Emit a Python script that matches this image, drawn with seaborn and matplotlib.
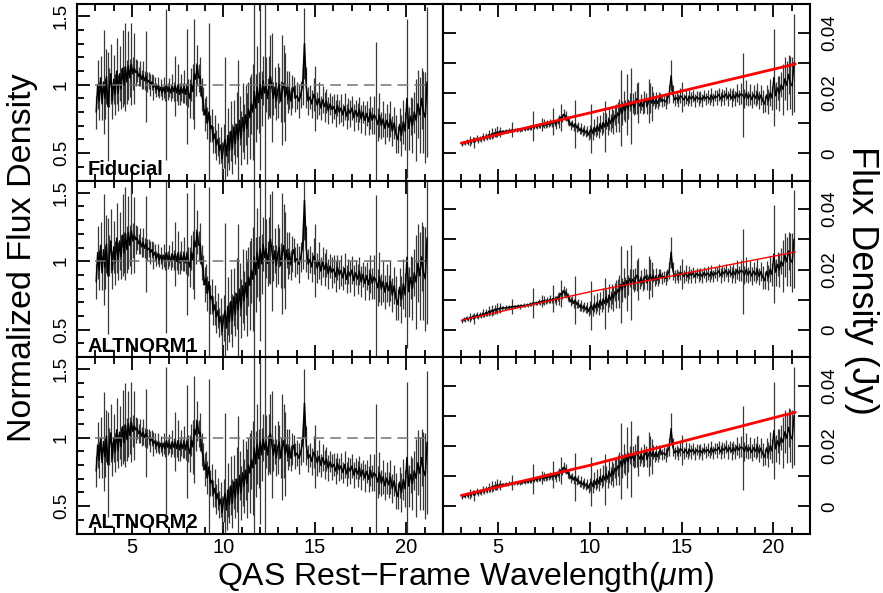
import numpy as np
import pandas as pd
import matplotlib
matplotlib.use("Agg")
import matplotlib.pyplot as plt
import seaborn as sns
from matplotlib.ticker import MultipleLocator, FixedLocator, FuncFormatter

# ---------------- data ----------------
# rest-frame wavelength (micron)
wave_a = [3.05, 3.13, 3.21, 3.29, 3.37, 3.45, 3.53, 3.61, 3.69, 3.77,
          3.85, 3.93, 4.01, 4.09, 4.17, 4.25, 4.33, 4.41, 4.49, 4.57,
          4.65, 4.73, 4.81, 4.89, 4.97, 5.05, 5.13, 5.21, 5.29, 5.37,
          5.45, 5.53, 5.61, 5.69, 5.77, 5.85, 5.93, 6.01, 6.09, 6.17,
          6.25, 6.33, 6.41, 6.49, 6.57, 6.65, 6.73, 6.81, 6.89, 6.97,
          7.05, 7.13, 7.21, 7.29, 7.37, 7.45, 7.53, 7.61, 7.69, 7.77,
          7.85, 7.93, 8.01, 8.09, 8.17, 8.25, 8.33, 8.41, 8.49, 8.57,
          8.65, 8.73, 8.81, 8.89, 8.97]
wave_b = [9.05, 9.13, 9.21, 9.29, 9.37, 9.45, 9.53, 9.61, 9.69, 9.77,
          9.85, 9.93, 10.01, 10.09, 10.17, 10.25, 10.33, 10.41, 10.49, 10.57,
          10.65, 10.73, 10.81, 10.89, 10.97, 11.05, 11.13, 11.21, 11.29, 11.37,
          11.45, 11.53, 11.61, 11.69, 11.77, 11.85, 11.93, 12.01, 12.09, 12.17,
          12.25, 12.33, 12.41, 12.49, 12.57, 12.65, 12.73, 12.81, 12.89, 12.97,
          13.05, 13.13, 13.21, 13.29, 13.37, 13.45, 13.53, 13.61, 13.69, 13.77,
          13.85, 13.93]
wave_c = [14.03, 14.13, 14.23, 14.33, 14.43, 14.53, 14.63, 14.73, 14.83, 14.93,
          15.03, 15.13, 15.23, 15.33, 15.43, 15.53, 15.63, 15.73, 15.83, 15.93,
          16.03, 16.13, 16.23, 16.33, 16.43, 16.53, 16.63, 16.73, 16.83, 16.93,
          17.03, 17.13, 17.23, 17.33, 17.43, 17.53, 17.63, 17.73, 17.83, 17.93,
          18.03, 18.13, 18.23, 18.33, 18.43, 18.53, 18.63, 18.73, 18.83, 18.93,
          19.03, 19.13, 19.23, 19.33, 19.43, 19.53, 19.63, 19.73, 19.83, 19.93,
          20.03, 20.13, 20.23, 20.33, 20.43, 20.53, 20.63, 20.73, 20.83, 20.93,
          21.03, 21.13]

# fiducial normalized flux density
norm_a = [0.80, 1.00, 0.88, 1.05, 0.86, 1.02, 0.90, 1.06, 0.84, 0.98,
          1.08, 0.88, 1.04, 0.93, 1.10, 0.94, 1.08, 0.97, 1.12, 1.00,
          1.13, 1.02, 1.14, 1.05, 1.15, 1.08, 1.12, 1.09, 1.10, 1.06,
          1.08, 1.04, 1.07, 1.03, 1.06, 1.02, 1.03, 1.00, 1.02, 0.98,
          1.00, 0.96, 0.99, 0.95, 0.98, 0.94, 0.98, 0.94, 1.00, 0.95,
          0.98, 0.94, 0.99, 0.95, 0.99, 0.94, 1.00, 0.93, 0.98, 0.94,
          0.99, 0.93, 0.99, 0.94, 0.90, 1.00, 0.95, 1.08, 1.04, 1.14,
          1.05, 1.06, 0.93, 0.88, 0.78]
norm_b = [0.82, 0.72, 0.80, 0.68, 0.70, 0.60, 0.64, 0.56, 0.60, 0.52,
          0.56, 0.46, 0.55, 0.60, 0.48, 0.63, 0.52, 0.66, 0.53, 0.69,
          0.57, 0.71, 0.60, 0.74, 0.61, 0.76, 0.66, 0.78, 0.68, 0.82,
          0.76, 0.86, 0.80, 0.95, 0.83, 0.98, 0.87, 1.00, 0.90, 1.03,
          0.94, 1.00, 0.90, 0.99, 1.06, 0.98, 0.90, 0.98, 0.88, 0.96,
          1.00, 0.88, 0.96, 1.01, 0.91, 0.98, 0.89, 0.96, 0.88, 0.95,
          0.98, 0.90]
norm_c = [0.92, 0.88, 0.93, 1.00, 1.30, 0.98, 0.88, 0.91, 0.86, 0.93,
          0.90, 0.85, 0.90, 0.83, 0.89, 0.84, 0.88, 0.81, 0.86, 0.82,
          0.84, 0.79, 0.85, 0.80, 0.83, 0.78, 0.84, 0.77, 0.82, 0.79,
          0.83, 0.76, 0.81, 0.77, 0.82, 0.75, 0.80, 0.74, 0.79, 0.73,
          0.80, 0.74, 0.78, 0.76, 0.71, 0.78, 0.70, 0.75, 0.68, 0.74,
          0.69, 0.75, 0.66, 0.72, 0.64, 0.60, 0.71, 0.63, 0.73, 0.66,
          0.90, 0.68, 0.77, 0.70, 0.80, 0.74, 0.86, 0.78, 0.90, 0.80,
          0.76, 1.02]

# 1-sigma uncertainty on the fiducial normalized flux
err_a = [0.12, 0.18, 0.14, 0.16, 0.12, 0.38, 0.15, 0.20, 0.40, 0.14,
         0.22, 0.13, 0.18, 0.15, 0.24, 0.13, 0.20, 0.15, 0.28, 0.14,
         0.32, 0.16, 0.25, 0.14, 0.30, 0.12, 0.26, 0.10, 0.08, 0.07,
         0.09, 0.07, 0.10, 0.07, 0.33, 0.07, 0.06, 0.08, 0.06, 0.09,
         0.06, 0.05, 0.07, 0.05, 0.06, 0.05, 0.08, 0.06, 0.55, 0.06,
         0.07, 0.06, 0.09, 0.07, 0.22, 0.06, 0.15, 0.08, 0.10, 0.07,
         0.12, 0.08, 0.42, 0.10, 0.14, 0.12, 0.20, 0.40, 0.12, 0.15,
         0.10, 0.14, 0.12, 0.10, 0.12]
err_b = [0.10, 0.12, 0.65, 0.10, 0.12, 0.10, 0.14, 0.11, 0.12, 0.10,
         0.13, 0.12, 0.16, 0.60, 0.15, 0.20, 0.14, 0.22, 0.18, 0.20,
         0.15, 0.24, 0.58, 0.18, 0.20, 0.25, 0.20, 0.22, 0.26, 0.20,
         0.30, 0.22, 0.35, 0.80, 0.25, 0.30, 0.22, 0.62, 0.20, 0.18,
         0.75, 0.20, 0.15, 0.22, 0.30, 0.40, 0.12, 0.15, 0.14, 0.20,
         0.13, 0.15, 0.40, 0.28, 0.32, 0.12, 0.10, 0.14, 0.10, 0.12,
         0.08, 0.10]
err_c = [0.10, 0.12, 0.10, 0.15, 0.26, 0.15, 0.10, 0.09, 0.10, 0.12,
         0.24, 0.10, 0.12, 0.09, 0.10, 0.11, 0.09, 0.10, 0.08, 0.10,
         0.09, 0.10, 0.08, 0.09, 0.10, 0.08, 0.10, 0.09, 0.08, 0.10,
         0.09, 0.10, 0.08, 0.10, 0.09, 0.10, 0.08, 0.11, 0.09, 0.10,
         0.12, 0.10, 0.14, 0.55, 0.12, 0.16, 0.10, 0.13, 0.11, 0.12,
         0.10, 0.13, 0.11, 0.12, 0.14, 0.10, 0.12, 0.15, 0.16, 0.14,
         0.58, 0.16, 0.14, 0.20, 0.15, 0.30, 0.25, 0.28, 0.22, 0.30,
         0.33, 0.55]

# continuum models (red lines), flux density in mJy at three wavelengths
cont_wave = [3.0, 10.0, 21.2]
cont_fid_mjy = [3.4, 13.4, 29.6]
cont_alt1_mjy = [3.2, 12.6, 25.8]
cont_alt2_mjy = [3.6, 13.6, 31.2]

row_labels = ["Fiducial", "ALTNORM1", "ALTNORM2"]
row_conts = [cont_fid_mjy, cont_alt1_mjy, cont_alt2_mjy]
red_widths = [2.0, 1.0, 2.0]

xlabel = r"QAS Rest$-$Frame Wavelength($\mu$m)"
ylabel_left = "Normalized Flux Density"
ylabel_right = "Flux Density (Jy)"

# ---------------- derived quantities ----------------
wave = np.array(wave_a + wave_b + wave_c)
norm_fid = np.array(norm_a + norm_b + norm_c)
err_fid = np.array(err_a + err_b + err_c)

cont_fid_jy = np.interp(wave, cont_wave, cont_fid_mjy) / 1000.0
flux = norm_fid * cont_fid_jy          # observed flux density (Jy)
flux_err = err_fid * cont_fid_jy

# ---------------- style ----------------
sns.set_theme(style="ticks", rc={"xtick.color": "black", "ytick.color": "black",
                                 "text.color": "black", "axes.labelcolor": "black",
                                 "axes.edgecolor": "black"})
plt.rcParams["font.family"] = ["Liberation Sans", "DejaVu Sans"]
plt.rcParams["mathtext.fontset"] = "custom"
plt.rcParams["mathtext.rm"] = "Liberation Sans"
plt.rcParams["mathtext.it"] = "Liberation Sans:italic"
plt.rcParams["axes.linewidth"] = 1.5

W, H = 883, 593
fig = plt.figure(figsize=(W / 100, H / 100), dpi=100)
fig.patch.set_facecolor("white")

L0, L1, R1 = 77, 443, 810
tops = [4, 180.5, 357]
rowh = 176.5

def fx(px):
    return px / W

def fy(py):
    return 1 - py / H

ERR_COLOR = "0.22"

def style_x(ax, show_labels):
    ax.set_xlim(2.0, 22.0)
    ax.xaxis.set_major_locator(MultipleLocator(5))
    ax.xaxis.set_minor_locator(MultipleLocator(1))
    ax.tick_params(axis="x", which="both", direction="in", top=True, bottom=True,
                   labelbottom=show_labels, labelsize=14.5, pad=3, width=1.3,
                   colors="black")
    ax.tick_params(axis="x", which="major", length=9)
    ax.tick_params(axis="x", which="minor", length=5)
    ax.set_xlabel("")

for i in range(3):
    top = tops[i]
    b = fy(top + rowh)
    h = rowh / H
    axl = fig.add_axes([fx(L0), b, fx(L1 - L0), h])
    axr = fig.add_axes([fx(L1), b, fx(R1 - L1), h])

    cont_row = np.interp(wave, cont_wave, row_conts[i]) / 1000.0
    n_row = flux / cont_row
    e_row = flux_err / cont_row

    # ---- left: normalized spectrum ----
    axl.vlines(wave, n_row - e_row, n_row + e_row, color=ERR_COLOR, lw=0.9, zorder=2)
    sns.lineplot(x=wave, y=n_row, ax=axl, color="black", lw=1.1,
                 estimator=None, sort=False, zorder=3)
    axl.hlines(1.0, cont_wave[0], cont_wave[-1], colors="0.45", lw=1.1,
               linestyles=(0, (7, 4)), zorder=4)
    axl.set_ylim(0.3, 1.59)
    axl.yaxis.set_major_locator(FixedLocator([0.5, 1.0, 1.5]))
    axl.yaxis.set_minor_locator(MultipleLocator(0.1))
    axl.yaxis.set_major_formatter(FuncFormatter(lambda v, p: f"{v:g}"))
    axl.tick_params(axis="y", which="both", direction="in", left=True, right=False,
                    labelsize=13.5, pad=5, width=1.3, colors="black")
    axl.tick_params(axis="y", which="major", length=9)
    axl.tick_params(axis="y", which="minor", length=5)
    for lab in axl.get_yticklabels():
        lab.set_rotation(90)
        lab.set_va("center")
    axl.set_ylabel("")
    style_x(axl, i == 2)
    axl.text(0.03, 0.03, row_labels[i], transform=axl.transAxes, fontsize=14.5,
             fontweight="bold", color="black", ha="left", va="baseline", zorder=6)

    # ---- right: flux density with continuum ----
    axr.vlines(wave, flux - flux_err, flux + flux_err, color=ERR_COLOR, lw=0.9, zorder=2)
    sns.lineplot(x=wave, y=flux, ax=axr, color="black", lw=1.0,
                 estimator=None, sort=False, zorder=3)
    sns.lineplot(x=cont_wave, y=np.array(row_conts[i]) / 1000.0, ax=axr,
                 color="red", lw=red_widths[i], estimator=None, sort=False, zorder=5)
    axr.set_ylim(-0.009, 0.0495)
    axr.yaxis.set_major_locator(MultipleLocator(0.02))
    axr.yaxis.set_minor_locator(MultipleLocator(0.01))
    axr.yaxis.set_major_formatter(FuncFormatter(lambda v, p: "0" if abs(v) < 1e-9 else f"{v:.2f}"))
    axr.tick_params(axis="y", which="both", direction="in", left=True, right=True,
                    labelleft=False, labelright=True, labelsize=13.5, pad=8,
                    length=9, width=1.3, colors="black")
    for lab in axr.get_yticklabels():
        lab.set_rotation(90)
        lab.set_va("center")
    axr.set_ylabel("")
    style_x(axr, i == 2)

    for ax in (axl, axr):
        for s in ax.spines.values():
            s.set_visible(True)
            s.set_linewidth(1.5)
            s.set_color("black")

fig.text(fx(23), fy(258), ylabel_left, rotation=90, ha="center", va="center", fontsize=24.5)
fig.text(fx(862), fy(280), ylabel_right, rotation=270, ha="center", va="center", fontsize=26)
fig.text(fx(465), fy(585), xlabel, ha="center", va="baseline", fontsize=23)

fig.savefig("out.png", dpi=100, facecolor="white")
